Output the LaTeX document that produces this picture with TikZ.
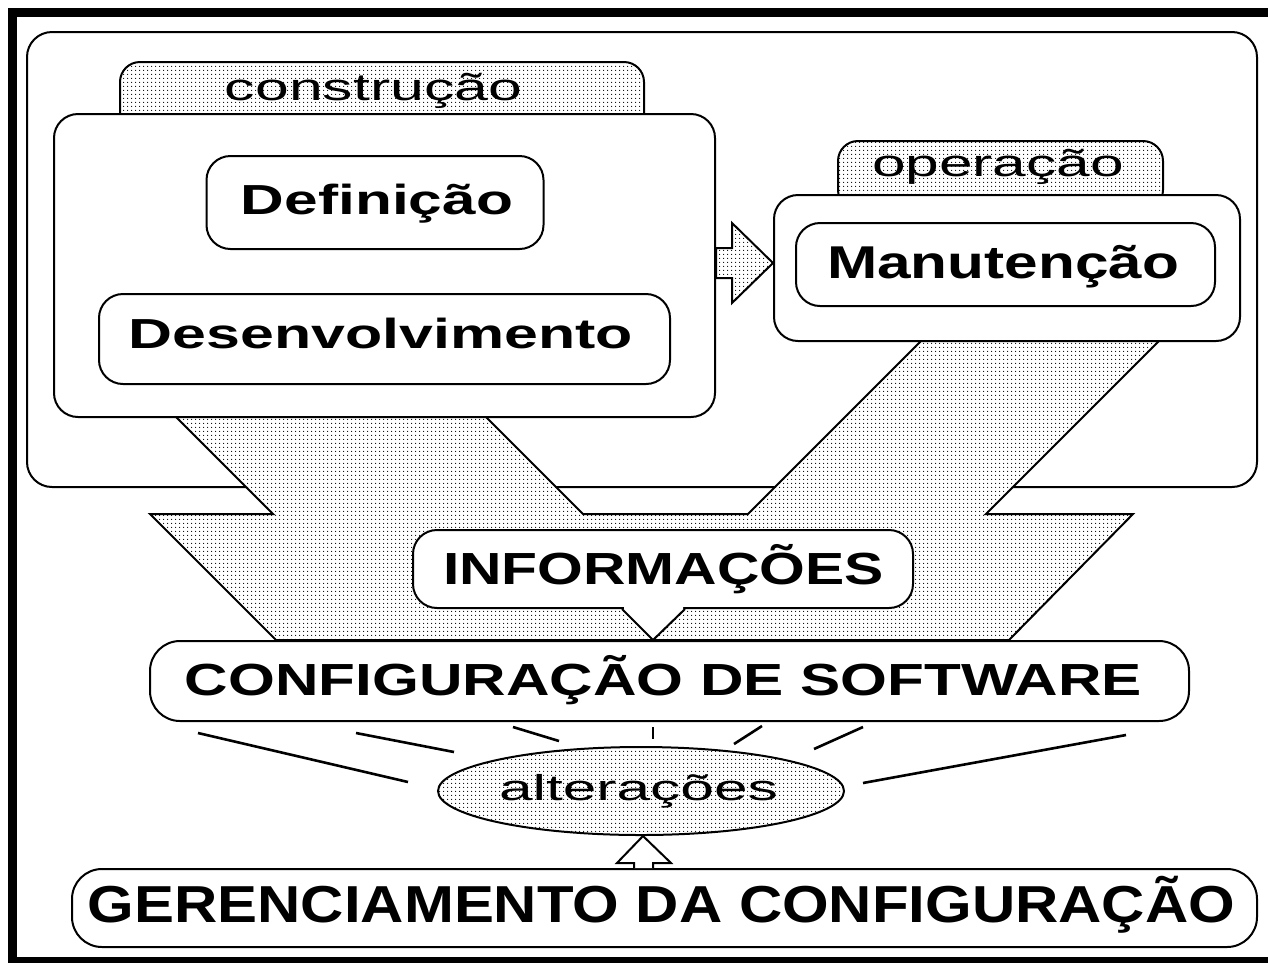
\documentclass[tikz,border=0pt]{standalone}
\usepackage{fontspec}
\setmainfont{Liberation Sans}
\usepackage{graphicx}
\usetikzlibrary{patterns.meta,shapes.geometric,calc}
\newcommand\wfit[2]{\resizebox{#1pt}{\height}{#2}}
\newcommand\fbf[1]{\fontsize{#1}{#1}\selectfont\bfseries}
\newcommand\frm[1]{\fontsize{#1}{#1}\selectfont}
\begin{document}
\begin{tikzpicture}[x=1pt,y=-1pt,
  ln/.style={draw=black,line width=2pt},
  dotfill/.style={preaction={fill=white},pattern={Dots[distance=4pt,radius=0.75pt]},pattern color=black},
  box/.style={ln,fill=white,rounded corners=24pt,inner sep=0pt,rectangle},
  tabbox/.style={ln,dotfill,rounded corners=20pt,inner sep=0pt,rectangle},
  txt/.style={anchor=base,inner sep=0pt},
  ray/.style={draw=black,line width=2.6pt}
]
\useasboundingbox (0,0) rectangle (1268,962);
% frame
\draw[line width=9pt] (1280,12.5) -- (12.5,12.5) -- (12.5,961.5) -- (1280,961.5);
% outer box
\node[box,rounded corners=25pt,minimum width=1230,minimum height=455] (outer) at (642,259.5) {};
% big V arrow
\draw[ln,dotfill] (164,405) -- (273,514) -- (150,514) -- (276,640) -- (1009,640) -- (1133,514) -- (986,514) -- (1170,330) -- (932,330) -- (748,514) -- (583,514) -- (474,405) -- cycle;
% construcao
\node[tabbox,minimum width=524,minimum height=73] (constab) at (382,98.5) {};
\node[box,minimum width=661,minimum height=303] (cons) at (384.5,265.5) {};
\node[box,minimum width=337,minimum height=93] (def) at (375,202.5) {};
\node[box,minimum width=571,minimum height=90] (des) at (384.5,339) {};
% operacao
\node[tabbox,minimum width=325,minimum height=69] (optab) at (1000.5,175.5) {};
\node[box,minimum width=466,minimum height=146] (op) at (1007,268) {};
\node[box,minimum width=419,minimum height=83] (man) at (1005.5,264.5) {};
% arrow construcao -> operacao
\draw[ln,dotfill] (cons.east |- 0,248) -- (732,248) -- (732,223) -- (op.west |- 0,263) -- (732,303) -- (732,278) -- (cons.east |- 0,278) -- cycle;
% informacoes callout
\node[box,minimum width=500,minimum height=78] (info) at (663,569) {};
\fill[white] (info.south -| 624,0) -- (653,639) -- (info.south -| 683,0) -- ([yshift=2pt]info.south -| 683,0) -- ([yshift=2pt]info.south -| 624,0) -- cycle;
% configuracao
\node[box,rounded corners=30pt,minimum width=1039,minimum height=80] (conf) at (669.5,681) {};
\draw[ln,line join=miter] (info.south -| 622,0) -- (conf.north -| 653,0) -- (info.south -| 685,0);
% rays
\draw[ray] (198,733) -- (408,782);
\draw[ray] (356,733) -- (454,752);
\draw[ray] (513,727) -- (559,741);
\draw[ray] (653,727) -- (653,739);
\draw[ray] (762,726) -- (734,744);
\draw[ray] (863,727) -- (814,749);
\draw[ray] (1126,735) -- (863,783);
% alteracoes
\node[ellipse,ln,dotfill,minimum width=406,minimum height=88,inner sep=0pt] (alt) at (641,791) {};
% gerenciamento
\node[box,rounded corners=30pt,minimum width=1185,minimum height=78] (ger) at (664.5,908) {};
\draw[ln,fill=white] (ger.north -| 634,0) -- (634,863) -- (617,863) -- (alt.south -| 643,0) -- (671,863) -- (653,863) -- (ger.north -| 653,0);
% texts
\node[txt] (tcons) at (373.5,100) {\wfit{297}{\frm{38}construção}};
\node[txt] (tdef) at (377,214) {\wfit{272}{\fbf{42}Definição}};
\node[txt] (tdes) at (381,348) {\wfit{504}{\fbf{42}Desenvolvimento}};
\node[txt] (top) at (998,176) {\wfit{252}{\frm{38}operação}};
\node[txt] (tman) at (1003,278) {\wfit{352}{\fbf{46}Manutenção}};
\node[txt] (tinfo) at (663.5,584) {\wfit{441}{\fbf{45}INFORMAÇÕES}};
\node[txt] (tconf) at (663.5,695) {\wfit{957}{\fbf{45}CONFIGURAÇÃO DE SOFTWARE}};
\node[txt] (talt) at (638.5,800) {\wfit{279}{\frm{36}alterações}};
\node[txt] (tger) at (661.5,922) {\wfit{1147}{\fbf{52}GERENCIAMENTO DA CONFIGURAÇÃO}};
\end{tikzpicture}
\end{document}
